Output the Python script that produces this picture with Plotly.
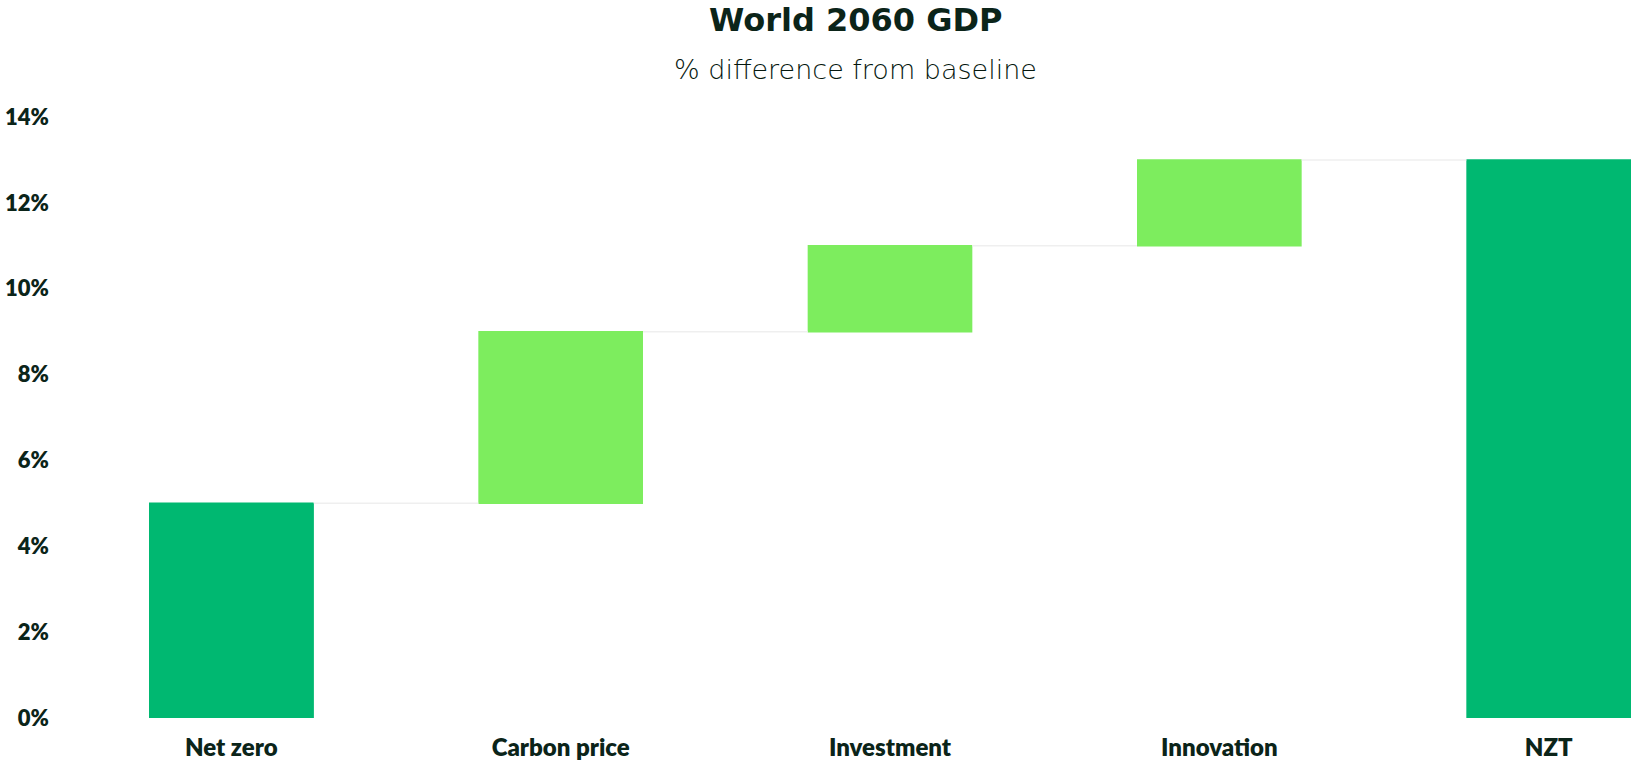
import plotly.graph_objects as go

# Contributions to world GDP in 2060, % difference from baseline
categories = ["Net zero", "Carbon price", "Investment", "Innovation", "NZT"]
values = [5.0, 4.0, 2.0, 2.0, 0]
measures = ["absolute", "relative", "relative", "relative", "total"]
y_ticks = [0, 2, 4, 6, 8, 10, 12, 14]
y_tick_labels = [f"{v}%" for v in y_ticks]

DARK_GREEN = "#00B871"
LIGHT_GREEN = "#7DED5E"
INK = "#0B2419"

W, H = 1632, 764
left_margin = 49
plot_left = 149
top_margin, bottom_margin = 117, 46
plot_width = W - left_margin - 1
plot_height = H - top_margin - bottom_margin

fig = go.Figure(
    go.Waterfall(
        x=categories,
        y=values,
        measure=measures,
        width=0.5,
        increasing=dict(marker=dict(color=LIGHT_GREEN, line=dict(width=0))),
        decreasing=dict(marker=dict(color=LIGHT_GREEN, line=dict(width=0))),
        totals=dict(marker=dict(color=DARK_GREEN, line=dict(width=0))),
        connector=dict(line=dict(color="#EFEFEF", width=1.5)),
        hoverinfo="skip",
    )
)

# The first bar is an absolute level, so draw it in the same colour as the total
fig.add_trace(
    go.Bar(
        x=categories[:1],
        y=values[:1],
        width=0.5,
        marker=dict(color=DARK_GREEN, line=dict(width=0)),
        hoverinfo="skip",
        showlegend=False,
    )
)

fig.update_layout(
    width=W,
    height=H,
    margin=dict(l=left_margin, r=1, t=top_margin, b=bottom_margin),
    paper_bgcolor="white",
    plot_bgcolor="white",
    showlegend=False,
    barmode="overlay",
    font=dict(family="Lato", color=INK),
)

fig.update_xaxes(
    domain=[(plot_left - left_margin) / plot_width, 1],
    range=[-0.25, 4.25],
    showgrid=False,
    zeroline=False,
    showline=False,
    ticks="",
    ticklabelstandoff=13,
    tickfont=dict(size=24, family="Lato", color=INK, weight=800),
)
fig.update_yaxes(
    range=[0, 14],
    tickvals=y_ticks,
    ticktext=y_tick_labels,
    showgrid=False,
    zeroline=False,
    showline=False,
    ticks="",
    anchor="free",
    position=0,
    tickfont=dict(size=22, family="Lato", color=INK, weight=800),
)

# Title and subtitle placed in pixel terms above the plot area
title_x = (855 - left_margin) / plot_width
fig.add_annotation(
    text="<b>World 2060 GDP</b>",
    xref="paper", yref="paper",
    x=title_x,
    y=1 + (top_margin - 20) / plot_height,
    showarrow=False, xanchor="center", yanchor="middle",
    font=dict(size=32, family="DejaVu Sans", color=INK),
)
fig.add_annotation(
    text="% difference from baseline",
    xref="paper", yref="paper",
    x=title_x,
    y=1 + (top_margin - 69) / plot_height,
    showarrow=False, xanchor="center", yanchor="middle",
    font=dict(size=27, family="DejaVu Sans", color="#06180F", weight=200),
)

fig.write_html("out.html")
